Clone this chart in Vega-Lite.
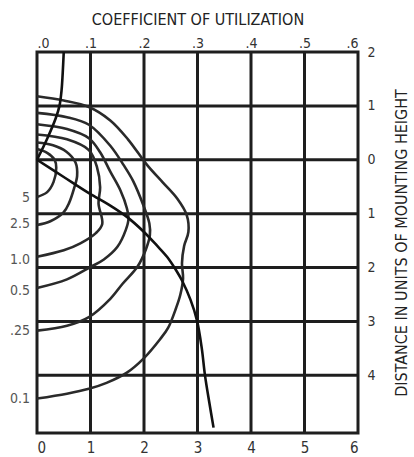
{
  "$schema": "https://vega.github.io/schema/vega-lite/v6.json",
  "width": 321,
  "height": 381,
  "autosize": {"type": "none"},
  "padding": {"left": 37, "top": 52, "right": 56, "bottom": 24},
  "background": "white",
  "config": {
    "view": {"stroke": "#1e1e1e", "strokeWidth": 3},
    "font": "DejaVu Sans Condensed, sans-serif",
    "axis": {
      "ticks": false, "domain": false, "grid": false,
      "labelFont": "DejaVu Sans Condensed, sans-serif",
      "titleFont": "DejaVu Sans Condensed, sans-serif",
      "labelColor": "#333", "titleColor": "#222", "titleFontWeight": "normal",
      "labelFontSize": 14, "titleFontSize": 16
    }
  },
  "resolve": {"axis": {"x": "independent", "y": "independent"}},
  "datasets": {
    "vgrid": [{"v": 1}, {"v": 2}, {"v": 3}, {"v": 4}, {"v": 5}],
    "hgrid": [{"v": -1}, {"v": 0}, {"v": 1}, {"v": 2}, {"v": 3}, {"v": 4}],
    "iso": [
      {"c": "0.1", "i": 0, "x": 0, "y": -1.18}, {"c": "0.1", "i": 1, "x": 0.5, "y": -1.1}, {"c": "0.1", "i": 2, "x": 0.97, "y": -0.98}, {"c": "0.1", "i": 3, "x": 1.37, "y": -0.73}, {"c": "0.1", "i": 4, "x": 1.7, "y": -0.38}, {"c": "0.1", "i": 5, "x": 2.06, "y": 0.1}, {"c": "0.1", "i": 6, "x": 2.35, "y": 0.42}, {"c": "0.1", "i": 7, "x": 2.62, "y": 0.72}, {"c": "0.1", "i": 8, "x": 2.8, "y": 1.03}, {"c": "0.1", "i": 9, "x": 2.83, "y": 1.34}, {"c": "0.1", "i": 10, "x": 2.75, "y": 1.6}, {"c": "0.1", "i": 11, "x": 2.71, "y": 1.92}, {"c": "0.1", "i": 12, "x": 2.73, "y": 2.2}, {"c": "0.1", "i": 13, "x": 2.68, "y": 2.5}, {"c": "0.1", "i": 14, "x": 2.6, "y": 2.75}, {"c": "0.1", "i": 15, "x": 2.45, "y": 3.12}, {"c": "0.1", "i": 16, "x": 2.3, "y": 3.33}, {"c": "0.1", "i": 17, "x": 2.0, "y": 3.68}, {"c": "0.1", "i": 18, "x": 1.68, "y": 3.95}, {"c": "0.1", "i": 19, "x": 1.3, "y": 4.14}, {"c": "0.1", "i": 20, "x": 0.97, "y": 4.25}, {"c": "0.1", "i": 21, "x": 0.56, "y": 4.34}, {"c": "0.1", "i": 22, "x": 0, "y": 4.43},
      {"c": ".25", "i": 0, "x": 0, "y": -0.87}, {"c": ".25", "i": 1, "x": 0.56, "y": -0.79}, {"c": ".25", "i": 2, "x": 0.97, "y": -0.65}, {"c": ".25", "i": 3, "x": 1.37, "y": -0.26}, {"c": ".25", "i": 4, "x": 1.62, "y": 0.1}, {"c": ".25", "i": 5, "x": 1.8, "y": 0.4}, {"c": ".25", "i": 6, "x": 1.99, "y": 0.85}, {"c": ".25", "i": 7, "x": 2.1, "y": 1.18}, {"c": ".25", "i": 8, "x": 2.11, "y": 1.4}, {"c": ".25", "i": 9, "x": 2.04, "y": 1.65}, {"c": ".25", "i": 10, "x": 1.88, "y": 1.98}, {"c": ".25", "i": 11, "x": 1.6, "y": 2.3}, {"c": ".25", "i": 12, "x": 1.37, "y": 2.58}, {"c": ".25", "i": 13, "x": 0.97, "y": 2.92}, {"c": ".25", "i": 14, "x": 0.56, "y": 3.08}, {"c": ".25", "i": 15, "x": 0, "y": 3.17},
      {"c": "0.5", "i": 0, "x": 0, "y": -0.66}, {"c": "0.5", "i": 1, "x": 0.56, "y": -0.57}, {"c": "0.5", "i": 2, "x": 0.97, "y": -0.4}, {"c": "0.5", "i": 3, "x": 1.18, "y": -0.14}, {"c": "0.5", "i": 4, "x": 1.37, "y": 0.22}, {"c": "0.5", "i": 5, "x": 1.56, "y": 0.57}, {"c": "0.5", "i": 6, "x": 1.68, "y": 0.9}, {"c": "0.5", "i": 7, "x": 1.71, "y": 1.1}, {"c": "0.5", "i": 8, "x": 1.66, "y": 1.3}, {"c": "0.5", "i": 9, "x": 1.5, "y": 1.62}, {"c": "0.5", "i": 10, "x": 1.25, "y": 1.85}, {"c": "0.5", "i": 11, "x": 1.0, "y": 1.99}, {"c": "0.5", "i": 12, "x": 0.56, "y": 2.22}, {"c": "0.5", "i": 13, "x": 0, "y": 2.38},
      {"c": "1.0", "i": 0, "x": 0, "y": -0.47}, {"c": "1.0", "i": 1, "x": 0.56, "y": -0.38}, {"c": "1.0", "i": 2, "x": 0.97, "y": -0.18}, {"c": "1.0", "i": 3, "x": 1.12, "y": 0.13}, {"c": "1.0", "i": 4, "x": 1.18, "y": 0.51}, {"c": "1.0", "i": 5, "x": 1.15, "y": 0.81}, {"c": "1.0", "i": 6, "x": 1.22, "y": 1.19}, {"c": "1.0", "i": 7, "x": 1.1, "y": 1.36}, {"c": "1.0", "i": 8, "x": 0.81, "y": 1.55}, {"c": "1.0", "i": 9, "x": 0.5, "y": 1.68}, {"c": "1.0", "i": 10, "x": 0, "y": 1.8},
      {"c": "2.5", "i": 0, "x": 0, "y": -0.32}, {"c": "2.5", "i": 1, "x": 0.3, "y": -0.27}, {"c": "2.5", "i": 2, "x": 0.55, "y": -0.15}, {"c": "2.5", "i": 3, "x": 0.72, "y": 0.05}, {"c": "2.5", "i": 4, "x": 0.75, "y": 0.3}, {"c": "2.5", "i": 5, "x": 0.69, "y": 0.54}, {"c": "2.5", "i": 6, "x": 0.6, "y": 0.8}, {"c": "2.5", "i": 7, "x": 0.5, "y": 0.97}, {"c": "2.5", "i": 8, "x": 0.25, "y": 1.14}, {"c": "2.5", "i": 9, "x": 0, "y": 1.21},
      {"c": "5", "i": 0, "x": 0, "y": -0.2}, {"c": "5", "i": 1, "x": 0.19, "y": -0.13}, {"c": "5", "i": 2, "x": 0.33, "y": 0.0}, {"c": "5", "i": 3, "x": 0.36, "y": 0.15}, {"c": "5", "i": 4, "x": 0.31, "y": 0.41}, {"c": "5", "i": 5, "x": 0.19, "y": 0.6}, {"c": "5", "i": 6, "x": 0, "y": 0.69}
    ],
    "cu": [
      {"c": "house", "i": 0, "x": 0, "y": 0}, {"c": "house", "i": 1, "x": 0.19, "y": -0.39}, {"c": "house", "i": 2, "x": 0.35, "y": -0.77}, {"c": "house", "i": 3, "x": 0.42, "y": -1.0}, {"c": "house", "i": 4, "x": 0.46, "y": -1.3}, {"c": "house", "i": 5, "x": 0.48, "y": -1.6}, {"c": "house", "i": 6, "x": 0.5, "y": -2.0},
      {"c": "street", "i": 0, "x": 0, "y": 0}, {"c": "street", "i": 1, "x": 0.5, "y": 0.32}, {"c": "street", "i": 2, "x": 0.97, "y": 0.62}, {"c": "street", "i": 3, "x": 1.37, "y": 0.85}, {"c": "street", "i": 4, "x": 1.68, "y": 1.06}, {"c": "street", "i": 5, "x": 1.99, "y": 1.33}, {"c": "street", "i": 6, "x": 2.24, "y": 1.59}, {"c": "street", "i": 7, "x": 2.43, "y": 1.8}, {"c": "street", "i": 8, "x": 2.6, "y": 2.05}, {"c": "street", "i": 9, "x": 2.71, "y": 2.24}, {"c": "street", "i": 10, "x": 2.87, "y": 2.6}, {"c": "street", "i": 11, "x": 2.99, "y": 2.98}, {"c": "street", "i": 12, "x": 3.08, "y": 3.5}, {"c": "street", "i": 13, "x": 3.14, "y": 4.0}, {"c": "street", "i": 14, "x": 3.22, "y": 4.5}, {"c": "street", "i": 15, "x": 3.3, "y": 4.97}
    ],
    "labels": [
      {"t": "5", "x": 0, "y": 0.71}, {"t": "2.5", "x": 0, "y": 1.2}, {"t": "1.0", "x": 0, "y": 1.86}, {"t": "0.5", "x": 0, "y": 2.43}, {"t": ".25", "x": 0, "y": 3.17}, {"t": "0.1", "x": 0, "y": 4.43}
    ]
  },
  "layer": [
    {
      "data": {"name": "vgrid"},
      "mark": {"type": "rule", "stroke": "#1e1e1e", "strokeWidth": 3},
      "encoding": {
        "x": {"field": "v", "type": "quantitative", "scale": {"domain": [0, 6], "nice": false, "zero": false},
              "axis": {"orient": "bottom", "values": [0, 1, 2, 3, 4, 5, 6], "labelFontSize": 15, "labelPadding": 7, "title": null}}
      }
    },
    {
      "data": {"name": "hgrid"},
      "mark": {"type": "rule", "stroke": "#1e1e1e", "strokeWidth": 3},
      "encoding": {
        "y": {"field": "v", "type": "quantitative", "scale": {"domain": [-2, 5.07], "nice": false, "zero": false, "reverse": true},
              "axis": {"orient": "right", "values": [-2, -1, 0, 1, 2, 3, 4], "labelExpr": "'' + abs(datum.value)", "labelPadding": 9, "labelFontSize": 14,
                       "title": "DISTANCE IN UNITS OF MOUNTING HEIGHT", "titleAngle": 270, "titlePadding": 34, "titleFontSize": 16}}
      }
    },
    {
      "data": {"name": "iso"},
      "mark": {"type": "line", "stroke": "#2a2a2a", "strokeWidth": 2.6, "interpolate": "catmull-rom"},
      "encoding": {
        "x": {"field": "x", "type": "quantitative", "scale": {"domain": [0, 6], "nice": false, "zero": false},
              "axis": {"orient": "top", "values": [0, 1, 2, 3, 4, 5, 6], "labelExpr": "'.' + datum.value", "labelPadding": 2, "labelFontSize": 14,
                       "title": "COEFFICIENT OF UTILIZATION", "titlePadding": 9, "titleFontSize": 16}},
        "y": {"field": "y", "type": "quantitative", "scale": {"domain": [-2, 5.07], "nice": false, "zero": false, "reverse": true}, "axis": null},
        "detail": {"field": "c"},
        "order": {"field": "i", "type": "quantitative"}
      }
    },
    {
      "data": {"name": "cu"},
      "mark": {"type": "line", "stroke": "#111", "strokeWidth": 2.6, "interpolate": "catmull-rom"},
      "encoding": {
        "x": {"field": "x", "type": "quantitative", "scale": {"domain": [0, 6], "nice": false, "zero": false}, "axis": null},
        "y": {"field": "y", "type": "quantitative", "scale": {"domain": [-2, 5.07], "nice": false, "zero": false, "reverse": true}, "axis": null},
        "detail": {"field": "c"},
        "order": {"field": "i", "type": "quantitative"}
      }
    },
    {
      "data": {"name": "labels"},
      "mark": {"type": "text", "align": "right", "baseline": "middle", "dx": -7, "fontSize": 14, "fill": "#555"},
      "encoding": {
        "x": {"field": "x", "type": "quantitative", "scale": {"domain": [0, 6], "nice": false, "zero": false}, "axis": null},
        "y": {"field": "y", "type": "quantitative", "scale": {"domain": [-2, 5.07], "nice": false, "zero": false, "reverse": true}, "axis": null},
        "text": {"field": "t"}
      }
    }
  ]
}
